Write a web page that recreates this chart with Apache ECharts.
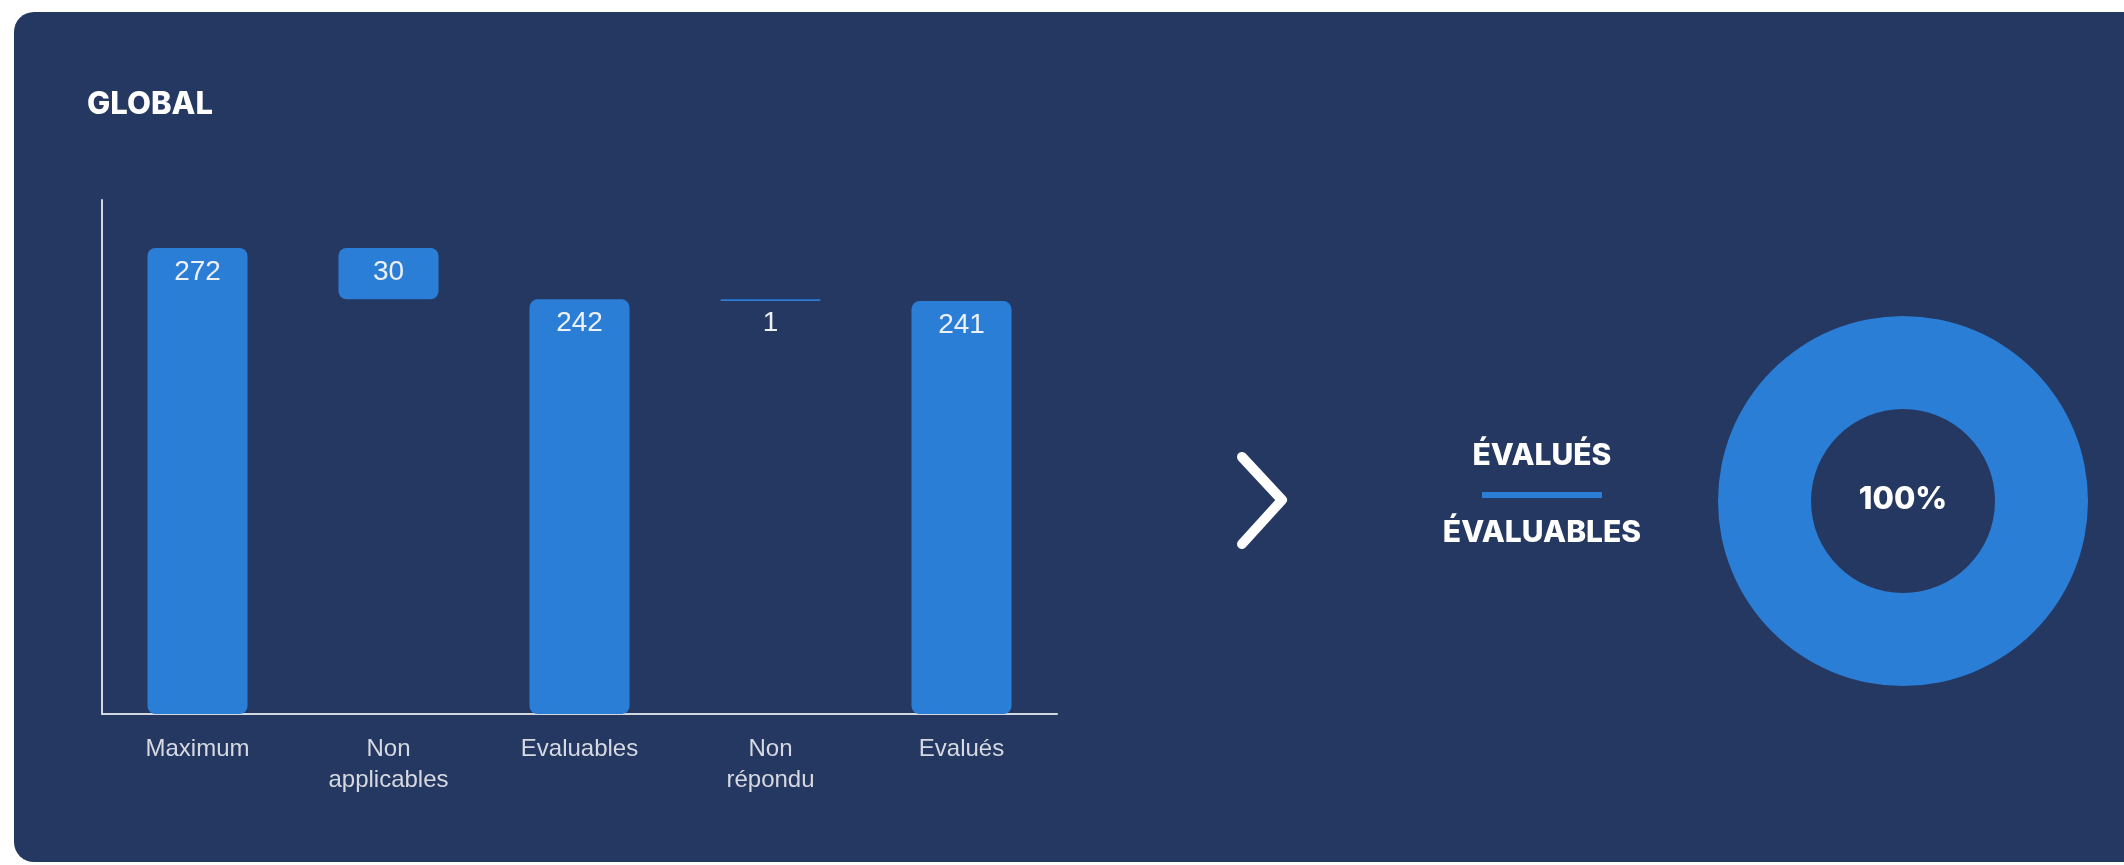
<!DOCTYPE html>
<html>
<head>
<meta charset="utf-8">
<title>Global</title>
<script src="https://cdn.jsdelivr.net/npm/echarts@6/dist/echarts.min.js"></script>
<style>
  html, body { margin: 0; padding: 0; background: #ffffff; }
  #chart { width: 2124px; height: 865px; }
</style>
</head>
<body>
<div id="chart"></div>
<script>
// Waterfall steps: totals and the amounts removed between them
const categories = ['Maximum', 'Non\napplicables', 'Evaluables', 'Non\nrépondu', 'Evalués'];
const stepValues = [272, 30, 242, 1, 241];
const stepKinds = ['total', 'delta', 'total', 'delta', 'total'];

// Ratio shown in the ring: evaluated over evaluable
const evaluatedCount = 241;
const evaluableCount = 242;

const BLUE = '#2a7ed6';
const CARD = '#253861';
const TEXT_FONT = 'Inter, "Open Sans", sans-serif';
const AXIS_FONT = '"Liberation Sans", Arial, sans-serif';

// Invisible base under each delta bar so it floats at the running total
const baseValues = [];
let running = 0;
stepValues.forEach((v, i) => {
  if (stepKinds[i] === 'total') {
    running = v;
    baseValues.push(0);
  } else {
    running -= v;
    baseValues.push(running);
  }
});

const ratioPercent = Math.round(evaluatedCount / evaluableCount * 100);
const ringValues = [ratioPercent, 100 - ratioPercent];

const chart = echarts.init(document.getElementById('chart'), null, { renderer: 'canvas' });

chart.setOption({
  backgroundColor: 'transparent',
  animation: false,
  grid: { left: 102, top: 200, width: 955, height: 514, containLabel: false },
  xAxis: {
    type: 'category',
    data: categories,
    axisLine: { show: true, lineStyle: { color: '#d3d7e0', width: 2 } },
    axisTick: { show: false },
    axisLabel: {
      color: '#d6d9e1',
      fontFamily: AXIS_FONT,
      fontSize: 24,
      lineHeight: 31,
      margin: 20
    }
  },
  yAxis: {
    type: 'value',
    min: 0,
    max: 300,
    axisLine: { show: true, lineStyle: { color: '#d3d7e0', width: 2 } },
    axisTick: { show: false },
    axisLabel: { show: false },
    splitLine: { show: false }
  },
  series: [
    {
      name: 'base',
      type: 'bar',
      stack: 'steps',
      barWidth: 100,
      silent: true,
      itemStyle: { color: 'transparent' },
      data: baseValues
    },
    {
      name: 'steps',
      type: 'bar',
      stack: 'steps',
      barWidth: 100,
      itemStyle: { color: BLUE, borderRadius: 8 },
      label: {
        show: true,
        position: 'insideTop',
        distance: 10,
        color: '#eef0f5',
        fontFamily: AXIS_FONT,
        fontSize: 28
      },
      data: stepValues
    },
    {
      name: 'ratio',
      type: 'pie',
      center: [1903, 501],
      radius: [92, 185],
      startAngle: 90,
      silent: true,
      label: { show: false },
      labelLine: { show: false },
      data: [
        { value: ringValues[0], itemStyle: { color: BLUE } },
        { value: ringValues[1], itemStyle: { color: 'transparent' } }
      ]
    }
  ],
  graphic: [
    {
      type: 'rect',
      z: -10,
      silent: true,
      shape: { x: 14, y: 12, width: 2200, height: 850, r: 20 },
      style: { fill: CARD }
    },
    {
      type: 'text',
      silent: true,
      style: {
        x: 87, y: 105,
        text: 'GLOBAL',
        fill: '#ffffff',
        font: '800 31px ' + TEXT_FONT,
        textAlign: 'left',
        textVerticalAlign: 'middle'
      }
    },
    {
      type: 'polyline',
      silent: true,
      shape: { points: [[1242, 457], [1282, 500], [1242, 544]] },
      style: { stroke: '#ffffff', lineWidth: 10, lineCap: 'round', lineJoin: 'round', fill: null }
    },
    {
      type: 'text',
      silent: true,
      style: {
        x: 1542, y: 456,
        text: 'ÉVALUÉS',
        fill: '#ffffff',
        font: '800 30px ' + TEXT_FONT,
        letterSpacing: 1,
        textAlign: 'center',
        textVerticalAlign: 'middle'
      }
    },
    {
      type: 'rect',
      silent: true,
      shape: { x: 1482, y: 492, width: 120, height: 6 },
      style: { fill: BLUE }
    },
    {
      type: 'text',
      silent: true,
      style: {
        x: 1542, y: 533,
        text: 'ÉVALUABLES',
        fill: '#ffffff',
        font: '800 30px ' + TEXT_FONT,
        letterSpacing: 1,
        textAlign: 'center',
        textVerticalAlign: 'middle'
      }
    },
    {
      type: 'text',
      silent: true,
      z: 10,
      style: {
        x: 1903, y: 500,
        text: ratioPercent + '%',
        fill: '#ffffff',
        font: '800 31px ' + TEXT_FONT,
        textAlign: 'center',
        textVerticalAlign: 'middle'
      }
    }
  ]
});
</script>
</body>
</html>
